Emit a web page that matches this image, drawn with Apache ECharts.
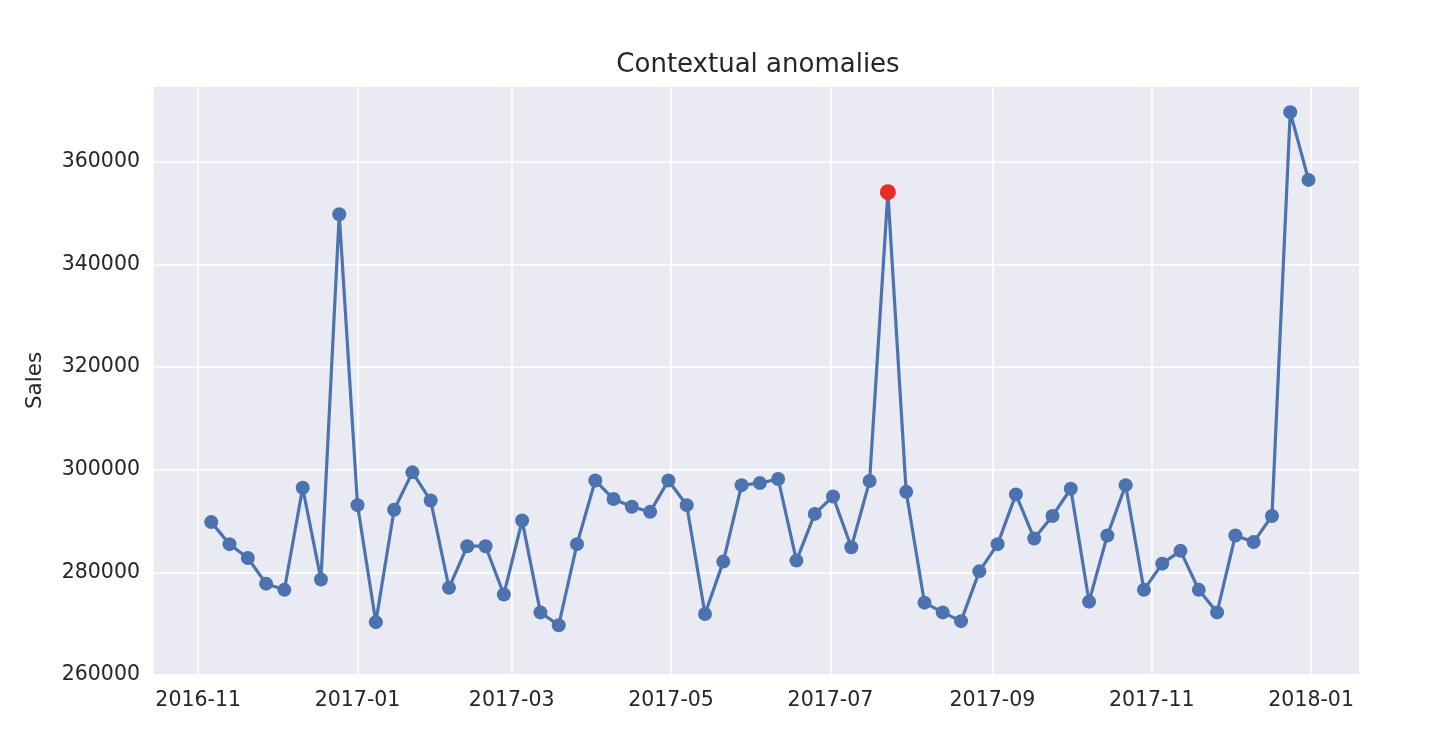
<!DOCTYPE html>
<html>
<head>
<meta charset="utf-8">
<script src="https://cdn.jsdelivr.net/npm/echarts@6/dist/echarts.min.js"></script>
<style>
html,body{margin:0;padding:0;background:#fff;}
#chart{width:1446px;height:756px;}
</style>
</head>
<body>
<div id="chart"></div>
<script>
const dates = [
  '2016-11-06','2016-11-13','2016-11-20','2016-11-27','2016-12-04','2016-12-11','2016-12-18','2016-12-25',
  '2017-01-01','2017-01-08','2017-01-15','2017-01-22','2017-01-29',
  '2017-02-05','2017-02-12','2017-02-19','2017-02-26',
  '2017-03-05','2017-03-12','2017-03-19','2017-03-26',
  '2017-04-02','2017-04-09','2017-04-16','2017-04-23','2017-04-30',
  '2017-05-07','2017-05-14','2017-05-21','2017-05-28',
  '2017-06-04','2017-06-11','2017-06-18','2017-06-25',
  '2017-07-02','2017-07-09','2017-07-16','2017-07-23','2017-07-30',
  '2017-08-06','2017-08-13','2017-08-20','2017-08-27',
  '2017-09-03','2017-09-10','2017-09-17','2017-09-24',
  '2017-10-01','2017-10-08','2017-10-15','2017-10-22','2017-10-29',
  '2017-11-05','2017-11-12','2017-11-19','2017-11-26',
  '2017-12-03','2017-12-10','2017-12-17','2017-12-24','2017-12-31'
];
const sales = [
  289800, 285500, 282800, 277800, 276600, 296500, 278600, 349800,
  293100, 270300, 292200, 299500, 294000,
  277000, 285100, 285100, 275700,
  290100, 272200, 269700, 285500,
  297900, 294300, 292800, 291800, 297900,
  293100, 271900, 282100, 297000,
  297400, 298200, 282300, 291400,
  294800, 284900, 297800, 354100, 295700,
  274100, 272200, 270500, 280200,
  285500, 295200, 286600, 291000,
  296300, 274300, 287200, 297000, 276600,
  281700, 284200, 276600, 272200,
  287200, 285900, 291000, 369700, 356500
];
const anomalyDates = ['2017-07-23'];
const anomalyValues = [354100];
const yTicks = [260000, 280000, 300000, 320000, 340000, 360000];

const chart = echarts.init(document.getElementById('chart'));
const font = 'DejaVu Sans';
chart.setOption({
  animation: false,
  textStyle: { fontFamily: font },
  title: {
    text: 'Contextual anomalies',
    left: 753, top: 47, textAlign: 'center',
    textStyle: { fontFamily: font, fontSize: 26, fontWeight: 'normal', color: '#262626' }
  },
  grid: {
    left: 153, right: 86, top: 86, bottom: 81,
    show: true, backgroundColor: '#EAEAF2', borderColor: '#ffffff', borderWidth: 1
  },
  xAxis: {
    type: 'time',
    min: '2016-10-14T17:00:00', max: '2018-01-19T17:00:00',
    splitNumber: 7,
    axisLine: { show: false },
    axisTick: { show: false },
    minorTick: { show: false },
    splitLine: { show: true, lineStyle: { color: '#ffffff', width: 1.6 } },
    axisLabel: {
      margin: 15, fontFamily: font, fontSize: 20.5, color: '#262626',
      formatter: function (val) {
        const d = new Date(val);
        return d.getFullYear() + '-' + String(d.getMonth() + 1).padStart(2, '0');
      }
    }
  },
  yAxis: {
    type: 'value',
    min: 260000, max: 374800, interval: 20000,
    name: 'Sales', nameLocation: 'middle', nameGap: 107, nameRotate: 90,
    nameTextStyle: { fontFamily: font, fontSize: 21.5, color: '#262626' },
    axisLine: { show: false },
    axisTick: { show: false },
    splitLine: { show: true, lineStyle: { color: '#ffffff', width: 1.6 } },
    axisLabel: {
      margin: 13, fontFamily: font, fontSize: 20.5, color: '#262626',
      formatter: function (v) { return yTicks.indexOf(v) >= 0 ? String(v) : ''; }
    }
  },
  series: [
    {
      type: 'line',
      data: dates.map((d, i) => [d, sales[i]]),
      symbol: 'circle', symbolSize: 14,
      lineStyle: { color: '#4C72B0', width: 3.2 },
      itemStyle: { color: '#4C72B0', opacity: 1 },
      z: 2
    },
    {
      type: 'scatter',
      data: anomalyDates.map((d, i) => [d, anomalyValues[i]]),
      symbol: 'circle', symbolSize: 16,
      itemStyle: { color: '#E62D28', opacity: 1 },
      z: 3
    }
  ]
});
</script>
</body>
</html>
